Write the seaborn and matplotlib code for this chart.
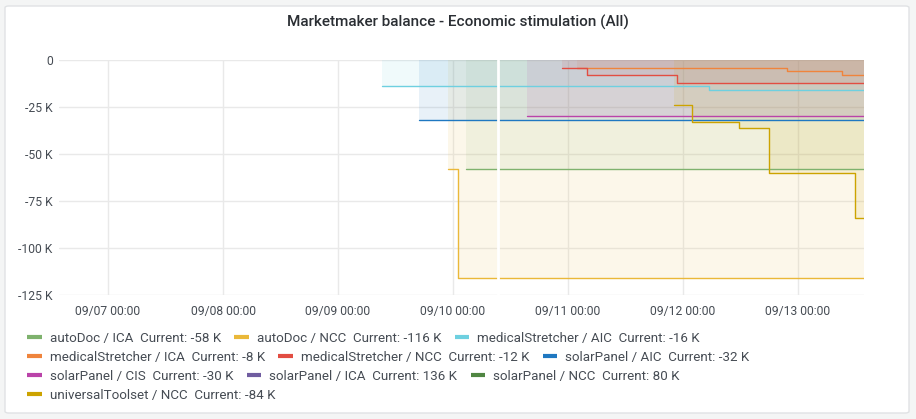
import numpy as np
import pandas as pd
import matplotlib.pyplot as plt
import matplotlib.dates as mdates
from matplotlib.lines import Line2D
from matplotlib.patches import FancyBboxPatch
from matplotlib.ticker import FuncFormatter
import seaborn as sns

# series (step changes, values in units)
series_names = ["autoDoc / ICA", "autoDoc / NCC", "medicalStretcher / AIC",
                "medicalStretcher / ICA", "medicalStretcher / NCC", "solarPanel / AIC",
                "solarPanel / CIS", "solarPanel / ICA", "solarPanel / NCC",
                "universalToolset / NCC"]
series_colors = ["#7EB26D", "#EAB839", "#6ED0E0", "#EF843C", "#E24D42",
                 "#1F78C1", "#BA43A9", "#705DA0", "#508642", "#CCA300"]
current_labels = ["-58 K", "-116 K", "-16 K", "-8 K", "-12 K", "-32 K",
                  "-30 K", "136 K", "80 K", "-84 K"]

autodoc_ica_t = ["2021-09-10 02:43"]
autodoc_ica_v = [-58000]
autodoc_ncc_t = ["2021-09-09 23:00", "2021-09-10 01:00"]
autodoc_ncc_v = [-58000, -116000]
med_aic_t = ["2021-09-09 09:10", "2021-09-12 05:25"]
med_aic_v = [-14000, -16000]
med_ica_t = ["2021-09-11 01:50", "2021-09-12 21:40", "2021-09-13 09:10"]
med_ica_v = [-4000, -6000, -8000]
med_ncc_t = ["2021-09-10 22:45", "2021-09-11 04:00", "2021-09-11 22:45"]
med_ncc_v = [-4000, -8000, -12000]
solar_aic_t = ["2021-09-09 16:55"]
solar_aic_v = [-32000]
solar_cis_t = ["2021-09-10 15:25"]
solar_cis_v = [-30000]
solar_ica_t = ["2021-09-10 12:00"]
solar_ica_v = [136000]
solar_ncc_t = ["2021-09-10 12:00"]
solar_ncc_v = [80000]
toolset_t = ["2021-09-11 22:10", "2021-09-12 01:50", "2021-09-12 11:40",
             "2021-09-12 18:00", "2021-09-13 11:55"]
toolset_v = [-24000, -33000, -36000, -60000, -84000]

end_time = "2021-09-13 13:46"
gap_time = "2021-09-10 09:23"
x_start = "2021-09-06 13:46"

all_t = [autodoc_ica_t, autodoc_ncc_t, med_aic_t, med_ica_t, med_ncc_t,
         solar_aic_t, solar_cis_t, solar_ica_t, solar_ncc_t, toolset_t]
all_v = [autodoc_ica_v, autodoc_ncc_v, med_aic_v, med_ica_v, med_ncc_v,
         solar_aic_v, solar_cis_v, solar_ica_v, solar_ncc_v, toolset_v]

rows = []
for name, ts, vs in zip(series_names, all_t, all_v):
    for t, v in zip(ts + [end_time], vs + [vs[-1]]):
        rows.append({"series": name, "time": pd.Timestamp(t), "value": v})
df = pd.DataFrame(rows)

sns.set_theme(style="white")
plt.rcParams['font.family'] = ['Roboto', 'DejaVu Sans']
text_color = "#464c54"

fig = plt.figure(figsize=(9.16, 4.19), dpi=100, facecolor="#f4f5f5")
panel = FancyBboxPatch((5 / 916, 6 / 419), 904 / 916, 407 / 419,
                       boxstyle="round,pad=0,rounding_size=0.004",
                       transform=fig.transFigure, facecolor="white",
                       edgecolor="#e0e2e4", linewidth=1, zorder=-5)
fig.patches.append(panel)

ax = fig.add_axes([59 / 916, 1 - 295 / 419, (864 - 59) / 916, (295 - 60) / 419])
ax.set_facecolor("none")
ax.set_zorder(1)

palette = dict(zip(series_names, series_colors))
sns.lineplot(data=df, x="time", y="value", hue="series", palette=palette,
             drawstyle="steps-post", estimator=None, legend=False,
             linewidth=1.0, ax=ax, zorder=3)

for name in series_names:
    sub = df[df["series"] == name]
    ax.fill_between(sub["time"], sub["value"], 0, step="post",
                    color=palette[name], alpha=0.1, linewidth=0, zorder=2)

ax.axvline(pd.Timestamp(gap_time), color="white", linewidth=2, zorder=5)

ax.set_ylim(-125000, 0)
ax.set_xlim(pd.Timestamp(x_start), pd.Timestamp(end_time))
ax.set_yticks([0, -25000, -50000, -75000, -100000, -125000])
ax.yaxis.set_major_formatter(FuncFormatter(lambda v, p: "0" if v == 0 else f"{int(v / 1000)} K"))
ax.xaxis.set_major_locator(mdates.DayLocator())
ax.xaxis.set_major_formatter(mdates.DateFormatter("%m/%d %H:%M"))
ax.grid(True, color="#e9e9e9", linewidth=1)
ax.set_axisbelow(True)
for s in ax.spines.values():
    s.set_visible(False)
ax.tick_params(axis="both", length=0, labelsize=8.7, colors=text_color)
ax.tick_params(axis="y", pad=4.5)
ax.tick_params(axis="x", pad=7)
ax.set_xlabel("")
ax.set_ylabel("")

fig.text(0.5, 1 - 22 / 419, "Marketmaker balance - Economic stimulation (All)",
         ha="center", va="center", fontsize=11.0, fontweight="medium", color="#2a2e33")

# legend rows, flowing left to right like the original
legend_rows = [[0, 1, 2], [3, 4, 5], [6, 7, 8], [9]]
row_y = [338, 357, 376, 395]
for idx, y in zip(legend_rows, row_y):
    handles = [Line2D([0], [0], color=series_colors[i], linewidth=3, solid_capstyle="butt") for i in idx]
    labels = [f"{series_names[i]}  Current: {current_labels[i]}" for i in idx]
    leg = fig.legend(handles, labels, loc="center left", bbox_to_anchor=(27 / 916, 1 - y / 419),
                     ncol=len(idx), frameon=False, fontsize=9.6, handlelength=1.1,
                     handletextpad=0.6, columnspacing=1.0, borderpad=0, borderaxespad=0)
    for t in leg.get_texts():
        t.set_color(text_color)

fig.savefig("out.png", dpi=100, facecolor=fig.get_facecolor())
